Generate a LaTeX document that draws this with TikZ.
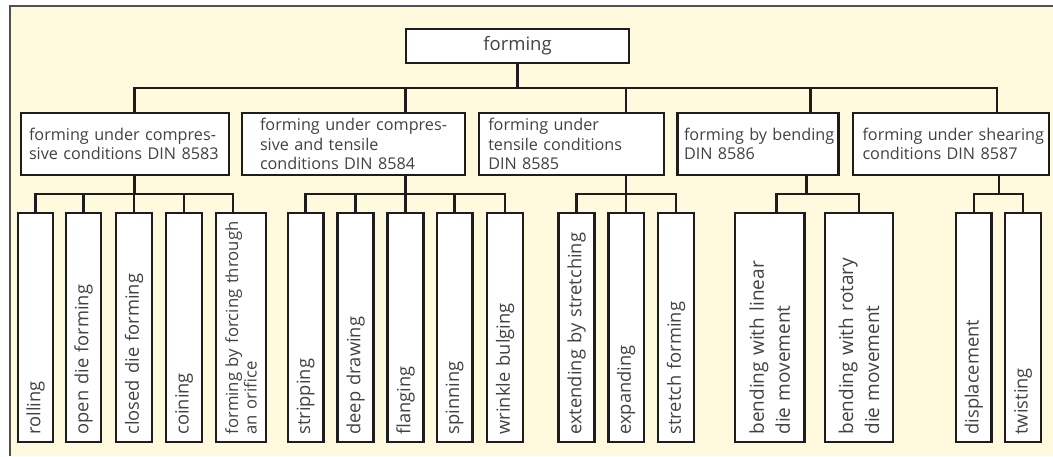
\documentclass[tikz,border=0pt]{standalone}
\usepackage{fontspec}
\setmainfont{Open Sans}
\definecolor{paper}{RGB}{255,249,221}
\definecolor{ink}{RGB}{30,28,28}
\definecolor{txt}{RGB}{66,66,68}
\definecolor{framec}{RGB}{80,80,80}
\tikzset{
  box/.style={draw=ink, fill=white, line width=2.5pt, text=txt},
  topbox/.style={box, font=\fontsize{18.5}{22}\selectfont, inner sep=0pt},
  groupbox/.style={box, font=\fontsize{16.2}{19.5}\selectfont, align=left, inner ysep=0pt, minimum height=62pt},
  leafbox/.style={box, rotate=90, text width=214pt, inner xsep=7.5pt, inner ysep=0pt,
    align=left, font=\fontsize{18.3}{20}\selectfont},
  wire/.style={draw=ink, line width=2.5pt, line cap=rect},
}
\begin{document}
\begin{tikzpicture}[x=1pt,y=-1pt]
\useasboundingbox (0,0) rectangle (1053,456);
% paper and frame
\fill[paper] (10,6) rectangle (1053,456);
\draw[framec, line width=1.6pt] (10,456) -- (10,6) -- (1053,6);

% root
\node[topbox, minimum width=223pt, minimum height=34pt] (root) at (517.5,46) {forming};

% process groups
\node[groupbox, text width=192pt, inner xsep=8pt] (b1) at (125,144)
  {\mbox{forming under compres-}\\\mbox{sive conditions DIN 8583}};
\node[groupbox, text width=187pt, inner xsep=18pt] (b2) at (353.5,144)
  {\mbox{forming under compres-}\\\mbox{sive and tensile}\\\mbox{conditions DIN 8584}};
\node[groupbox, text width=166pt, inner xsep=9.5pt] (b3) at (571.25,144)
  {\mbox{forming under}\\\mbox{tensile conditions}\\\mbox{DIN 8585}};
\node[groupbox, text width=148pt, inner xsep=6.5pt] (b4) at (758,144)
  {\mbox{forming by bending}\\\mbox{DIN 8586}};
\node[groupbox, text width=177pt, inner xsep=9.5pt] (b5) at (951,144)
  {\mbox{forming under shearing}\\\mbox{conditions DIN 8587}};

% individual processes
\node[leafbox, minimum height=35pt] (l11) at (35.5,327.5) {rolling};
\node[leafbox, minimum height=35pt] (l12) at (83.5,327.5) {open die forming};
\node[leafbox, minimum height=36pt] (l13) at (134,327.5) {closed die forming};
\node[leafbox, minimum height=36pt] (l14) at (184,327.5) {coining};
\node[leafbox, minimum height=50pt, font=\fontsize{16.7}{18.5}\selectfont] (l15) at (241,327.5)
  {\mbox{forming by forcing through}\\\mbox{an orifice}};
\node[leafbox, minimum height=35.5pt] (l21) at (305.7,327.5) {stripping};
\node[leafbox, minimum height=36pt] (l22) at (355.5,327.5) {deep drawing};
\node[leafbox, minimum height=36pt] (l23) at (405.5,327.5) {flanging};
\node[leafbox, minimum height=35.5pt] (l24) at (454.7,327.5) {spinning};
\node[leafbox, minimum height=36pt] (l25) at (505,327.5) {wrinkle bulging};
\node[leafbox, minimum height=36pt] (l31) at (576.5,327.5) {extending by stretching};
\node[leafbox, minimum height=35.5pt] (l32) at (626.2,327.5) {expanding};
\node[leafbox, minimum height=36pt] (l33) at (676,327.5) {stretch forming};
\node[leafbox, minimum height=69.5pt, font=\fontsize{19}{26}\selectfont] (l41) at (769.75,327.5)
  {\mbox{bending with linear}\\\mbox{die movement}};
\node[leafbox, minimum height=68pt, font=\fontsize{19}{26}\selectfont] (l42) at (859,327.5)
  {\mbox{bending with rotary}\\\mbox{die movement}};
\node[leafbox, minimum height=35.5pt] (l51) at (973.75,327.5) {displacement};
\node[leafbox, minimum height=36pt] (l52) at (1023,327.5) {twisting};

% trunk from the root to the groups
\coordinate (d1) at (134.5,88);
\coordinate (d2) at (405.5,88);
\coordinate (d3) at (626,88);
\coordinate (d4) at (810.5,88);
\coordinate (d5) at (997,88);
\draw[wire] (root.south) -- (root.south |- d1);
\draw[wire] (d1) -- (d5);
\foreach \n in {1,...,5} \draw[wire] (d\n) -- (d\n |- b\n.north);

% branches from each group to its processes
\coordinate (e1) at (134.5,194);
\coordinate (e2) at (405.5,194);
\coordinate (e3) at (626,194);
\coordinate (e4) at (806.5,194);
\coordinate (e5) at (999,194);
\foreach \n in {1,...,5} \draw[wire] (e\n |- b\n.south) -- (e\n);

\coordinate (f15) at (233,194);
\draw[wire] (l11.east |- e1) -- (f15);
\foreach \l in {l11,l12,l13,l14} \draw[wire] (\l.east |- e1) -- (\l.east);
\draw[wire] (f15) -- (f15 |- l15.east);

\draw[wire] (l21.east |- e2) -- (l25.east |- e2);
\foreach \l in {l21,l22,l23,l24,l25} \draw[wire] (\l.east |- e2) -- (\l.east);

\draw[wire] (l31.east |- e3) -- (l33.east |- e3);
\foreach \l in {l31,l32,l33} \draw[wire] (\l.east |- e3) -- (\l.east);

\coordinate (f41) at (776.5,194);
\draw[wire] (f41) -- (l42.east |- e4);
\draw[wire] (f41) -- (f41 |- l41.east);
\draw[wire] (l42.east |- e4) -- (l42.east);

\draw[wire] (l51.east |- e5) -- (l52.east |- e5);
\foreach \l in {l51,l52} \draw[wire] (\l.east |- e5) -- (\l.east);
\end{tikzpicture}
\end{document}
